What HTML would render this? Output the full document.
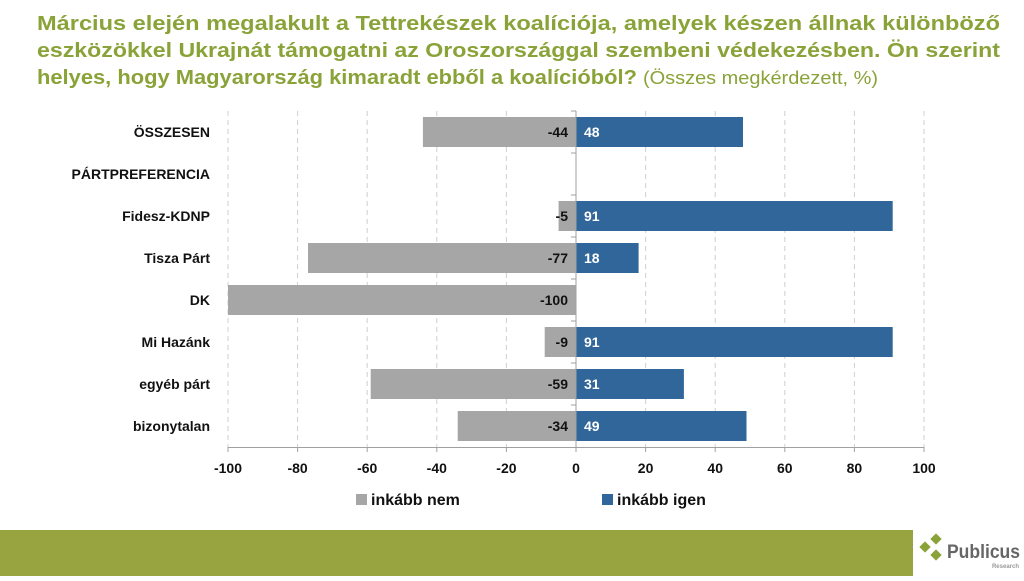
<!DOCTYPE html>
<html><head><meta charset="utf-8"><style>
body{margin:0;width:1024px;height:576px;overflow:hidden;background:#fff;font-family:"Liberation Sans",sans-serif}
</style></head><body>
<svg width="1024" height="576" xmlns="http://www.w3.org/2000/svg" font-family="Liberation Sans, sans-serif">
<g fill="#8aa339" font-weight="bold" font-size="20">
<text x="37" y="30" textLength="963" lengthAdjust="spacingAndGlyphs">Március elején megalakult a Tettrekészek koalíciója, amelyek készen állnak különböző</text>
<text x="37" y="57" textLength="963" lengthAdjust="spacingAndGlyphs">eszközökkel Ukrajnát támogatni az Oroszországgal szembeni védekezésben. Ön szerint</text>
<text x="37" y="84" textLength="600" lengthAdjust="spacingAndGlyphs">helyes, hogy Magyarország kimaradt ebből a koalícióból?</text>
<text x="643" y="84" font-weight="normal" font-size="18" textLength="235" lengthAdjust="spacingAndGlyphs">(Összes megkérdezett, %)</text>
</g>
<g stroke="#d0d0d0" stroke-dasharray="5,4" stroke-width="1">
<line x1="228" y1="111" x2="228" y2="447"/><line x1="297.6" y1="111" x2="297.6" y2="447"/><line x1="367.2" y1="111" x2="367.2" y2="447"/><line x1="436.8" y1="111" x2="436.8" y2="447"/><line x1="506.4" y1="111" x2="506.4" y2="447"/><line x1="645.6" y1="111" x2="645.6" y2="447"/><line x1="715.2" y1="111" x2="715.2" y2="447"/><line x1="784.8" y1="111" x2="784.8" y2="447"/><line x1="854.4" y1="111" x2="854.4" y2="447"/><line x1="924" y1="111" x2="924" y2="447"/>
</g>
<g fill="#a6a6a6">
<rect x="422.9" y="117" width="153.1" height="30"/>
<rect x="558.6" y="201" width="17.4" height="30"/>
<rect x="308.0" y="243" width="268" height="30"/>
<rect x="228" y="285" width="348" height="30"/>
<rect x="544.7" y="327" width="31.3" height="30"/>
<rect x="370.7" y="369" width="205.3" height="30"/>
<rect x="457.7" y="411" width="118.3" height="30"/>
</g>
<g fill="#31669a">
<rect x="576" y="117" width="167" height="30"/>
<rect x="576" y="201" width="316.7" height="30"/>
<rect x="576" y="243" width="62.6" height="30"/>
<rect x="576" y="327" width="316.7" height="30"/>
<rect x="576" y="369" width="107.9" height="30"/>
<rect x="576" y="411" width="170.5" height="30"/>
</g>
<g stroke="#a0a0a0" stroke-width="1">
<line x1="576" y1="111" x2="576" y2="447"/>
<line x1="228" y1="447.5" x2="924" y2="447.5"/>
<line x1="571" y1="111" x2="576" y2="111"/><line x1="571" y1="153" x2="576" y2="153"/><line x1="571" y1="195" x2="576" y2="195"/><line x1="571" y1="237" x2="576" y2="237"/><line x1="571" y1="279" x2="576" y2="279"/><line x1="571" y1="321" x2="576" y2="321"/><line x1="571" y1="363" x2="576" y2="363"/><line x1="571" y1="405" x2="576" y2="405"/>
<line x1="228" y1="447" x2="228" y2="452"/><line x1="297.6" y1="447" x2="297.6" y2="452"/><line x1="367.2" y1="447" x2="367.2" y2="452"/><line x1="436.8" y1="447" x2="436.8" y2="452"/><line x1="506.4" y1="447" x2="506.4" y2="452"/><line x1="576" y1="447" x2="576" y2="452"/><line x1="645.6" y1="447" x2="645.6" y2="452"/><line x1="715.2" y1="447" x2="715.2" y2="452"/><line x1="784.8" y1="447" x2="784.8" y2="452"/><line x1="854.4" y1="447" x2="854.4" y2="452"/><line x1="924" y1="447" x2="924" y2="452"/>
</g>
<g font-size="14" font-weight="bold" fill="#111" text-anchor="end">
<text x="210" y="137">ÖSSZESEN</text>
<text x="210" y="179">PÁRTPREFERENCIA</text>
<text x="210" y="221">Fidesz-KDNP</text>
<text x="210" y="263">Tisza Párt</text>
<text x="210" y="305">DK</text>
<text x="210" y="347">Mi Hazánk</text>
<text x="210" y="389">egyéb párt</text>
<text x="210" y="431">bizonytalan</text>
<text x="568" y="137">-44</text>
<text x="568" y="221">-5</text>
<text x="568" y="263">-77</text>
<text x="568" y="305">-100</text>
<text x="568" y="347">-9</text>
<text x="568" y="389">-59</text>
<text x="568" y="431">-34</text>
</g>
<g font-size="14" font-weight="bold" fill="#fff">
<text x="584" y="137">48</text><text x="584" y="221">91</text><text x="584" y="263">18</text><text x="584" y="347">91</text><text x="584" y="389">31</text><text x="584" y="431">49</text>
</g>
<g font-size="14" font-weight="bold" fill="#111" text-anchor="middle">
<text x="228" y="473">-100</text><text x="297.6" y="473">-80</text><text x="367.2" y="473">-60</text><text x="436.8" y="473">-40</text><text x="506.4" y="473">-20</text><text x="576" y="473">0</text><text x="645.6" y="473">20</text><text x="715.2" y="473">40</text><text x="784.8" y="473">60</text><text x="854.4" y="473">80</text><text x="924" y="473">100</text>
</g>
<rect x="356" y="494" width="11" height="11" fill="#a6a6a6"/>
<text x="371" y="505" font-size="16" font-weight="bold" fill="#111">inkább nem</text>
<rect x="602" y="494" width="11" height="11" fill="#31669a"/>
<text x="617" y="505" font-size="16" font-weight="bold" fill="#111">inkább igen</text>
<rect x="0" y="530" width="913" height="46" fill="#98a43f"/>
<g fill="#8aa339">
<rect x="921" y="543" width="8" height="8" transform="rotate(45 925 547)"/>
<rect x="932" y="535" width="8" height="8" transform="rotate(45 936 539)"/>
<rect x="932" y="551" width="8" height="8" transform="rotate(45 936 555)"/>
</g>
<text x="947" y="558" font-size="19" font-weight="bold" fill="#666" textLength="73" lengthAdjust="spacingAndGlyphs">Publicus</text>
<text x="1019" y="568" font-size="6" font-weight="bold" fill="#999" text-anchor="end">Research</text>
</svg>
</body></html>
